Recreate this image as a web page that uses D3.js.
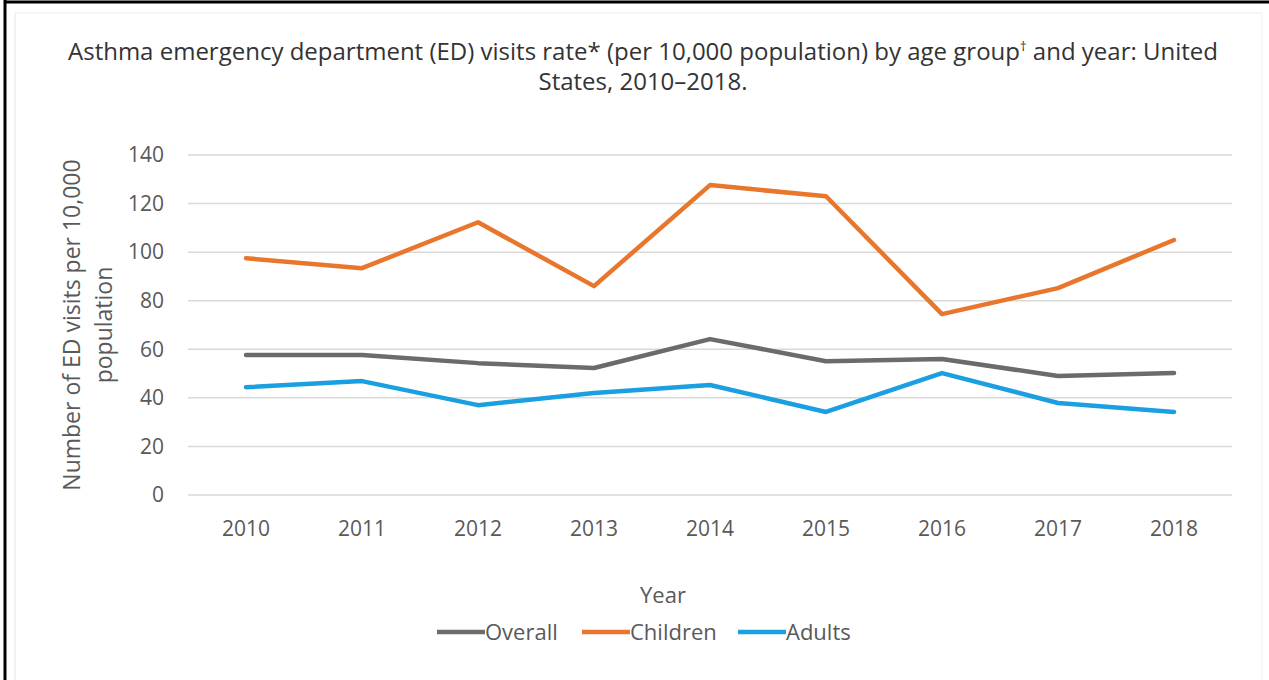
<!DOCTYPE html>
<html>
<head>
<meta charset="utf-8">
<script src="https://cdn.jsdelivr.net/npm/d3@7"></script>
<style>
  body { margin: 0; background: #fff; }
  text { font-family: "Open Sans", sans-serif; }
</style>
</head>
<body>
<div id="chart"></div>
<script>
// data
const years = ["2010", "2011", "2012", "2013", "2014", "2015", "2016", "2017", "2018"];
const overall  = [57.6, 57.6, 54.3, 52.3, 64.2, 55.1, 56.0, 49.0, 50.2];
const children = [97.5, 93.4, 112.3, 86.0, 127.6, 123.0, 74.5, 85.2, 105.0];
const adults   = [44.4, 46.9, 37.0, 42.0, 45.3, 34.2, 50.2, 37.9, 34.2];
const yTicks = [0, 20, 40, 60, 80, 100, 120, 140];

const series = [
  {name: "Overall",  values: overall,  color: "#6b6b6b"},
  {name: "Children", values: children, color: "#e8762d"},
  {name: "Adults",   values: adults,   color: "#1a9fe0"}
];

const W = 1269, H = 680;
const svg = d3.select("#chart").append("svg")
    .attr("width", W).attr("height", H);

// frame
svg.append("line").attr("x1", 4).attr("x2", W).attr("y1", 2).attr("y2", 2)
    .attr("stroke", "#000").attr("stroke-width", 3);
svg.append("line").attr("x1", 5).attr("x2", 5).attr("y1", 0).attr("y2", H)
    .attr("stroke", "#000").attr("stroke-width", 3);
svg.append("line").attr("x1", 15).attr("x2", 1262).attr("y1", 13).attr("y2", 13)
    .attr("stroke", "#ececec").attr("stroke-width", 1);
svg.append("line").attr("x1", 15).attr("x2", 15).attr("y1", 13).attr("y2", H)
    .attr("stroke", "#e6e6e6").attr("stroke-width", 1);
svg.append("line").attr("x1", 1262).attr("x2", 1262).attr("y1", 13).attr("y2", H)
    .attr("stroke", "#f0f0f0").attr("stroke-width", 1);

// title
const title = svg.append("text")
    .attr("text-anchor", "middle")
    .attr("fill", "#333")
    .style("font-size", "24px");
title.append("tspan").attr("x", 643).attr("y", 60)
    .text("Asthma emergency department (ED) visits rate* (per 10,000 population) by age group");
title.append("tspan").attr("dy", -9).style("font-size", "13px").text("\u2020");
title.append("tspan").attr("dy", 9).text(" and year: United");
title.append("tspan").attr("x", 643).attr("y", 90).text("States, 2010\u20132018.");

// scales
const x = d3.scaleBand().domain(years).range([188, 1232]);
const y = d3.scaleLinear().domain([0, 140]).range([495, 155]);

// grid
svg.append("g")
  .selectAll("line")
  .data(yTicks)
  .join("line")
    .attr("x1", 188).attr("x2", 1232)
    .attr("y1", d => y(d)).attr("y2", d => y(d))
    .attr("stroke", "#d9d9d9").attr("stroke-width", 1.5);

// y axis
const yAxis = svg.append("g")
    .attr("transform", "translate(164,0)")
    .call(d3.axisLeft(y).tickValues(yTicks).tickSize(0).tickPadding(0));
yAxis.select(".domain").remove();
yAxis.selectAll("text")
    .attr("fill", "#595959")
    .style("font-size", "21px")
    .style("font-family", "'Open Sans', sans-serif");

// x axis
const xAxis = svg.append("g")
    .attr("transform", "translate(0,521)")
    .call(d3.axisBottom(x).tickSize(0).tickPadding(0));
xAxis.select(".domain").remove();
xAxis.selectAll("text")
    .attr("fill", "#595959")
    .attr("dy", "0.72em")
    .style("font-size", "21px")
    .style("font-family", "'Open Sans', sans-serif");

// axis titles
svg.append("text")
    .attr("x", 663).attr("y", 603)
    .attr("text-anchor", "middle")
    .attr("fill", "#595959")
    .style("font-size", "22px")
    .text("Year");

const yt = svg.append("text")
    .attr("transform", "translate(0,325) rotate(-90)")
    .attr("text-anchor", "middle")
    .attr("fill", "#595959")
    .style("font-size", "23px");
yt.append("tspan").attr("x", 0).attr("y", 80).text("Number of ED visits per 10,000");
yt.append("tspan").attr("x", 0).attr("y", 112).text("population");

// lines
const line = d3.line()
    .x((d, i) => x(years[i]) + x.bandwidth() / 2)
    .y(d => y(d));

svg.append("g")
  .selectAll("path")
  .data(series)
  .join("path")
    .attr("d", d => line(d.values))
    .attr("fill", "none")
    .attr("stroke", d => d.color)
    .attr("stroke-width", 4.5)
    .attr("stroke-linejoin", "round")
    .attr("stroke-linecap", "round");

// legend
const legendX = [437, 582, 738];
const lg = svg.append("g")
  .selectAll("g")
  .data(series)
  .join("g")
    .attr("transform", (d, i) => `translate(${legendX[i]},632)`);
lg.append("line")
    .attr("x1", 0).attr("x2", 48)
    .attr("stroke", d => d.color)
    .attr("stroke-width", 4.5);
lg.append("text")
    .attr("x", 48).attr("dy", "0.35em")
    .attr("fill", "#595959")
    .style("font-size", "22px")
    .text(d => d.name);
</script>
</body>
</html>
